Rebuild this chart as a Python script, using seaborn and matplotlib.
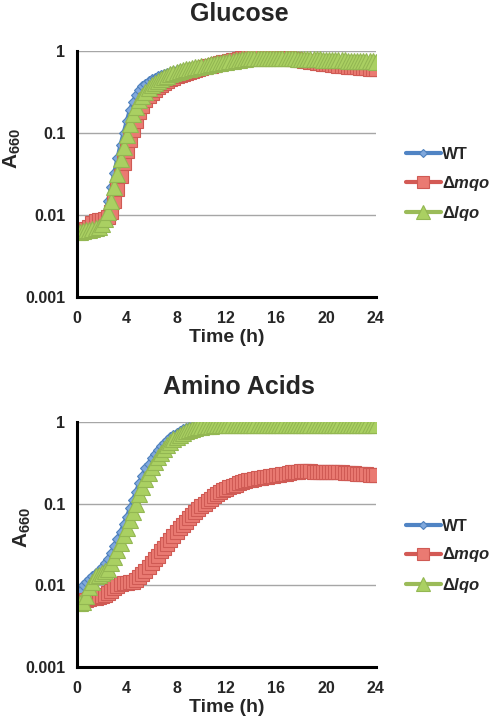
import numpy as np
import matplotlib
matplotlib.use("Agg")
import matplotlib.pyplot as plt
import matplotlib.transforms as mtransforms
import seaborn as sns

# time points (h), every 15 min
time_h = np.arange(0, 24.01, 0.25)

# Glucose
glc_wt = [0.0060, 0.0060, 0.0060, 0.0060, 0.0061, 0.0062, 0.0064, 0.0066,
          0.0080, 0.0105, 0.015, 0.022, 0.033, 0.049, 0.072, 0.10,
          0.14, 0.19, 0.24, 0.29, 0.33, 0.37, 0.40, 0.43,
          0.45, 0.47, 0.49, 0.51, 0.53, 0.545, 0.56, 0.575,
          0.59, 0.60, 0.61, 0.62, 0.63, 0.64, 0.65, 0.66,
          0.67, 0.68, 0.69, 0.70, 0.71, 0.72, 0.73, 0.74,
          0.75, 0.76, 0.77, 0.78, 0.79, 0.80, 0.81, 0.815,
          0.82, 0.825, 0.83, 0.83, 0.83, 0.825, 0.82, 0.815,
          0.81, 0.805, 0.80, 0.795, 0.79, 0.785, 0.78, 0.775,
          0.77, 0.765, 0.76, 0.755, 0.75, 0.745, 0.74, 0.735,
          0.73, 0.725, 0.72, 0.715, 0.71, 0.705, 0.70, 0.695,
          0.69, 0.685, 0.68, 0.675, 0.67, 0.665, 0.66, 0.655,
          0.65]
glc_mqo = [0.0062, 0.0063, 0.0065, 0.0068, 0.0072, 0.0080, 0.0085, 0.0087,
           0.0088, 0.0090, 0.0095, 0.011, 0.015, 0.021, 0.030, 0.043,
           0.060, 0.082, 0.11, 0.14, 0.18, 0.215, 0.25, 0.28,
           0.31, 0.335, 0.36, 0.385, 0.41, 0.43, 0.45, 0.47,
           0.49, 0.51, 0.53, 0.545, 0.56, 0.575, 0.59, 0.605,
           0.62, 0.635, 0.65, 0.665, 0.68, 0.695, 0.71, 0.725,
           0.74, 0.755, 0.77, 0.785, 0.80, 0.815, 0.83, 0.845,
           0.86, 0.87, 0.88, 0.885, 0.885, 0.88, 0.875, 0.86,
           0.85, 0.84, 0.83, 0.82, 0.81, 0.80, 0.79, 0.78,
           0.77, 0.76, 0.75, 0.74, 0.73, 0.72, 0.71, 0.70,
           0.69, 0.685, 0.68, 0.67, 0.66, 0.655, 0.65, 0.645,
           0.64, 0.635, 0.63, 0.625, 0.62, 0.615, 0.61, 0.605,
           0.60]
glc_lqo = [0.0062, 0.0063, 0.0064, 0.0065, 0.0066, 0.0067, 0.0069, 0.0072,
           0.0078, 0.0090, 0.011, 0.015, 0.022, 0.032, 0.048, 0.068,
           0.095, 0.13, 0.17, 0.21, 0.25, 0.285, 0.32, 0.35,
           0.38, 0.405, 0.43, 0.455, 0.48, 0.50, 0.52, 0.535,
           0.55, 0.565, 0.58, 0.595, 0.61, 0.62, 0.63, 0.64,
           0.65, 0.66, 0.67, 0.685, 0.70, 0.71, 0.72, 0.73,
           0.74, 0.75, 0.76, 0.77, 0.78, 0.79, 0.80, 0.81,
           0.82, 0.825, 0.83, 0.83, 0.83, 0.83, 0.83, 0.825,
           0.82, 0.82, 0.82, 0.815, 0.81, 0.81, 0.81, 0.805,
           0.80, 0.80, 0.80, 0.795, 0.79, 0.79, 0.79, 0.785,
           0.78, 0.78, 0.78, 0.775, 0.77, 0.77, 0.77, 0.765,
           0.76, 0.76, 0.76, 0.755, 0.75, 0.75, 0.75, 0.745,
           0.74]

# Amino acids
aa_wt = [0.0060, 0.0085, 0.0100, 0.011, 0.012, 0.013, 0.014, 0.0155,
         0.017, 0.019, 0.021, 0.025, 0.030, 0.037, 0.045, 0.056,
         0.068, 0.088, 0.11, 0.14, 0.18, 0.22, 0.27, 0.31,
         0.36, 0.41, 0.46, 0.51, 0.56, 0.61, 0.66, 0.70,
         0.74, 0.78, 0.81, 0.84, 0.86, 0.875, 0.89, 0.90,
         0.91, 0.915, 0.92, 0.925, 0.93, 0.93, 0.93, 0.93,
         0.93, 0.93, 0.93, 0.93, 0.93, 0.93, 0.93, 0.93,
         0.93, 0.93, 0.93, 0.93, 0.93, 0.93, 0.93, 0.93,
         0.93, 0.93, 0.93, 0.93, 0.93, 0.93, 0.93, 0.93,
         0.93, 0.93, 0.93, 0.93, 0.93, 0.93, 0.93, 0.93,
         0.93, 0.93, 0.93, 0.93, 0.93, 0.93, 0.93, 0.93,
         0.925, 0.925, 0.925, 0.92, 0.92, 0.92, 0.92, 0.92,
         0.92]
aa_mqo = [0.0060, 0.0062, 0.0065, 0.0067, 0.0068, 0.0069, 0.0070, 0.0071,
          0.0073, 0.0076, 0.0080, 0.0086, 0.0092, 0.0098, 0.0105, 0.0107,
          0.0108, 0.0109, 0.0110, 0.0116, 0.0125, 0.0136, 0.015, 0.017,
          0.019, 0.021, 0.023, 0.026, 0.029, 0.032, 0.036, 0.040,
          0.045, 0.050, 0.055, 0.060, 0.066, 0.072, 0.079, 0.086,
          0.093, 0.100, 0.108, 0.115, 0.123, 0.130, 0.138, 0.145,
          0.152, 0.158, 0.165, 0.171, 0.177, 0.183, 0.188, 0.193,
          0.197, 0.201, 0.205, 0.209, 0.212, 0.215, 0.218, 0.221,
          0.224, 0.227, 0.230, 0.234, 0.238, 0.242, 0.245, 0.247,
          0.248, 0.248, 0.248, 0.248, 0.247, 0.247, 0.246, 0.246,
          0.245, 0.245, 0.244, 0.244, 0.243, 0.242, 0.240, 0.239,
          0.237, 0.236, 0.234, 0.232, 0.230, 0.228, 0.226, 0.224,
          0.222]
aa_lqo = [0.0060, 0.0060, 0.0062, 0.0075, 0.0095, 0.011, 0.013, 0.0135,
          0.014, 0.015, 0.016, 0.019, 0.022, 0.027, 0.033, 0.041,
          0.050, 0.063, 0.080, 0.10, 0.13, 0.16, 0.20, 0.24,
          0.28, 0.32, 0.37, 0.42, 0.47, 0.52, 0.57, 0.62,
          0.66, 0.70, 0.74, 0.77, 0.80, 0.83, 0.85, 0.865,
          0.88, 0.89, 0.90, 0.905, 0.91, 0.915, 0.92, 0.92,
          0.92, 0.92, 0.925, 0.925, 0.93, 0.93, 0.93, 0.93,
          0.93, 0.93, 0.93, 0.93, 0.93, 0.93, 0.93, 0.93,
          0.93, 0.93, 0.93, 0.93, 0.93, 0.93, 0.93, 0.93,
          0.93, 0.93, 0.93, 0.93, 0.93, 0.93, 0.93, 0.93,
          0.93, 0.93, 0.93, 0.93, 0.93, 0.93, 0.93, 0.93,
          0.93, 0.93, 0.925, 0.925, 0.92, 0.92, 0.92, 0.92,
          0.92]

strain_labels = ["WT", "Δ$\\mathit{mqo}$", "Δ$\\mathit{lqo}$"]
y_ticks = [0.001, 0.01, 0.1, 1]
y_tick_labels = ["0.001", "0.01", "0.1", "1"]
x_ticks = [0, 4, 8, 12, 16, 20, 24]

styles = [
    dict(color="#5084C4", marker="D", markersize=5, markerfacecolor="#80A8DC", markeredgecolor="#4F81BD"),
    dict(color="#D35A55", marker="s", markersize=9.5, markerfacecolor="#EA7A72", markeredgecolor="#CF5A54"),
    dict(color="#9BBB59", marker="^", markersize=11.5, markerfacecolor="#AAD062", markeredgecolor="#93B752"),
]

sns.set_style("white")
plt.rcParams["font.family"] = ["Liberation Sans", "DejaVu Sans"]
plt.rcParams["font.weight"] = "bold"
plt.rcParams["mathtext.fontset"] = "custom"
plt.rcParams["mathtext.rm"] = "Liberation Sans:bold"
plt.rcParams["mathtext.it"] = "Liberation Sans:italic:bold"
plt.rcParams["mathtext.bf"] = "Liberation Sans:bold"

fig = plt.figure(figsize=(4.9, 7.23), dpi=100)
ax_top = fig.add_axes([0.157, 0.589, 0.610, 0.3405])
ax_bot = fig.add_axes([0.157, 0.0775, 0.610, 0.3388])


def draw_panel(ax, series, title, label_xy, legend_y, title_y):
    # soft dark shadow under each curve
    shadow = mtransforms.offset_copy(ax.transData, fig=fig, x=1, y=-5, units="dots")
    for vals in series:
        sns.lineplot(x=time_h, y=vals, ax=ax, color="#222222", linewidth=2.5,
                     alpha=0.55, transform=shadow, legend=False)
    for vals, lab, st in zip(series, strain_labels, styles):
        sns.lineplot(x=time_h, y=vals, ax=ax, label=lab, linewidth=3,
                     markeredgewidth=0.8, **st)

    ax.set_yscale("log")
    ax.set_ylim(0.001, 1)
    ax.set_xlim(0, 24)
    ax.set_yticks(y_ticks)
    ax.set_yticklabels(y_tick_labels)
    ax.set_xticks(x_ticks)
    ax.yaxis.grid(True, which="major", color="#A6A6A6", linewidth=1)
    ax.xaxis.grid(False)
    ax.set_axisbelow(True)

    for side in ["top", "right"]:
        ax.spines[side].set_visible(False)
    for side in ["left", "bottom"]:
        ax.spines[side].set_color("black")
        ax.spines[side].set_linewidth(2.2)

    ax.tick_params(axis="both", which="major", direction="inout", length=6.5, width=2,
                   labelsize=11.5, color="black")
    ax.tick_params(axis="y", which="major", pad=5)
    ax.tick_params(axis="x", which="major", pad=7)
    ax.tick_params(axis="y", which="minor", direction="out", length=3, width=1.5, color="black")
    for lbl in ax.get_xticklabels() + ax.get_yticklabels():
        lbl.set_fontweight("bold")

    ax.set_xlabel("Time (h)", fontsize=14, fontweight="bold", labelpad=2)
    ax.set_ylabel("A$_{660}$", fontsize=15, fontweight="bold")
    ax.yaxis.set_label_coords(*label_xy)

    fig.text(0.488, title_y, title, ha="center", va="center", fontsize=18, fontweight="bold")

    ax.legend(loc="center left", bbox_to_anchor=(1.1, legend_y), frameon=False,
              fontsize=12, handlelength=2.1, handletextpad=0.05, labelspacing=0.7,
              borderpad=0, borderaxespad=0, markerscale=0.85)


draw_panel(ax_top, [glc_wt, glc_mqo, glc_lqo], "Glucose", (-0.18, 0.606), 0.455, 1 - 14 / 723)
draw_panel(ax_bot, [aa_wt, aa_mqo, aa_lqo], "Amino Acids", (-0.147, 0.571), 0.449, 1 - 387 / 723)

fig.savefig("out.png", dpi=100)
